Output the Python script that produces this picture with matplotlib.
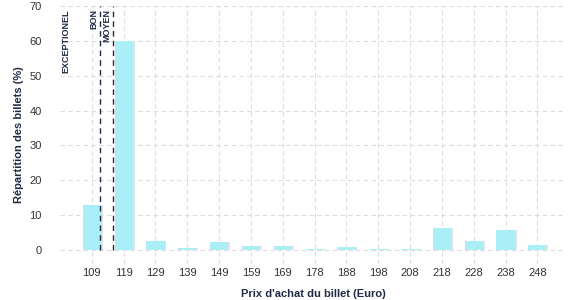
import matplotlib
matplotlib.use("Agg")
import matplotlib.pyplot as plt

prices = ["109", "119", "129", "139", "149", "159", "169", "178", "188", "198", "208", "218", "228", "238", "248"]
shares = [12.9, 60.0, 2.6, 0.6, 2.3, 1.1, 1.1, 0.2, 0.9, 0.2, 0.2, 6.4, 2.6, 5.7, 1.4]
thresholds = [0.26, 0.67]
threshold_labels = ["BON", "MOYEN"]
left_label = "EXCEPTIONEL"

plt.rcParams['font.family'] = ['Liberation Sans', 'DejaVu Sans']
navy = "#1f2a44"

fig = plt.figure(figsize=(5.77, 3.0), dpi=100)
ax = fig.add_axes([0.104, 0.12, 0.877, 0.86])

x = list(range(len(prices)))
ax.bar([i + 0.06 for i in x], shares, width=0.57, color="#e2e2e2", zorder=2)
ax.bar(x, shares, width=0.57, color="#aaeef8", zorder=3)

for t in thresholds:
    ax.plot([t, t], [0, 70], color=navy, linestyle=(0, (4, 3)), linewidth=1.0, zorder=4)

ax.text(-0.82, 69, left_label, rotation=90, ha="center", va="top", fontsize=6.5, color=navy, fontweight="bold")
ax.text(thresholds[0] - 0.2, 69, threshold_labels[0], rotation=90, ha="center", va="top", fontsize=6.5, color=navy, fontweight="bold")
ax.text(thresholds[1] - 0.2, 69, threshold_labels[1], rotation=90, ha="center", va="top", fontsize=6.5, color=navy, fontweight="bold")

ax.set_xlim(-1.0, 14.9)
ax.set_ylim(-4, 70)
ax.set_yticks(range(0, 71, 10))
ax.set_xticks(x)
ax.set_xticklabels(prices)
ax.tick_params(axis="both", length=0, labelsize=8, colors="#333333")
ax.tick_params(axis="y", pad=13)
ax.tick_params(axis="x", pad=3)
ax.grid(True, color="#dcdcdc", linestyle=(0, (4, 3)), linewidth=0.8, zorder=0)
ax.set_axisbelow(True)
for s in ax.spines.values():
    s.set_visible(False)

ax.set_xlabel("Prix d'achat du billet (Euro)", fontsize=8, fontweight="bold", color=navy, labelpad=8)
ax.set_ylabel("Répartition des billets (%)", fontsize=8, fontweight="bold", color=navy, labelpad=4)

fig.savefig("out.png", dpi=100)
